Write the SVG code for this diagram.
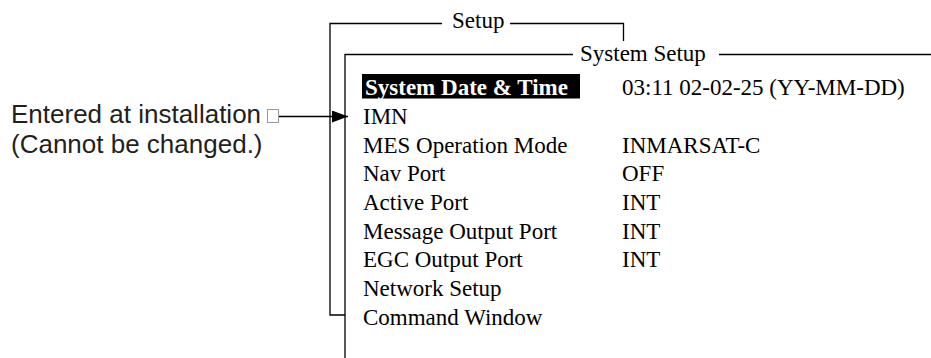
<svg xmlns="http://www.w3.org/2000/svg" width="931" height="358" viewBox="0 0 931 358">
<style>
.ln{fill:none;stroke:#000;stroke-width:1.3}
.t{font-family:"Liberation Serif","Times New Roman",serif;font-size:23px;fill:#000}
.b{font-weight:bold;fill:#fff}
.s{font-family:"Liberation Sans",Arial,sans-serif;font-size:26px;fill:#231f20}
</style>
<defs>
<marker id="ah" markerWidth="16" markerHeight="12" refX="16" refY="6" orient="auto" markerUnits="userSpaceOnUse">
<path d="M0,0 L16,6 L0,12 Z" fill="#000"/>
</marker>
</defs>
<rect width="931" height="358" fill="#fff"/>
<g id="connectors">
<path class="ln" d="M442,23.5 H330 V315 H345"/>
<path class="ln" d="M510,23.5 H623.5 V41"/>
<path class="ln" d="M573,54.5 H345 V358"/>
<path class="ln" d="M719,54.5 H931"/>
<path class="ln" d="M279,116.5 H348" marker-end="url(#ah)"/>
</g>
<g id="setup-label"><text class="t" x="452" y="27.5">Setup</text></g>
<g id="system-setup-label"><text class="t" x="580" y="60.5">System Setup</text></g>
<g id="note">
<text class="s" x="11" y="123">Entered at installation</text>
<rect x="267.5" y="109.5" width="11" height="13" fill="none" stroke="#999" stroke-width="1"/>
<text class="s" x="11" y="153">(Cannot be changed.)</text>
</g>
<g id="menu">
<rect x="362" y="74" width="218" height="24.5" fill="#000"/>
<text class="t b" x="365" y="95">System Date &amp; Time</text>
<text class="t" x="622" y="95">03:11 02-02-25 (YY-MM-DD)</text>
<text class="t" x="363" y="124">IMN</text>
<text class="t" x="363" y="152.5">MES Operation Mode</text>
<text class="t" x="622" y="152.5">INMARSAT-C</text>
<text class="t" x="363" y="181">Nav Port</text>
<text class="t" x="622" y="181">OFF</text>
<text class="t" x="363" y="210">Active Port</text>
<text class="t" x="622" y="210">INT</text>
<text class="t" x="363" y="238.5">Message Output Port</text>
<text class="t" x="622" y="238.5">INT</text>
<text class="t" x="363" y="267">EGC Output Port</text>
<text class="t" x="622" y="267">INT</text>
<text class="t" x="363" y="296">Network Setup</text>
<text class="t" x="363" y="324.5">Command Window</text>
</g>
</svg>
